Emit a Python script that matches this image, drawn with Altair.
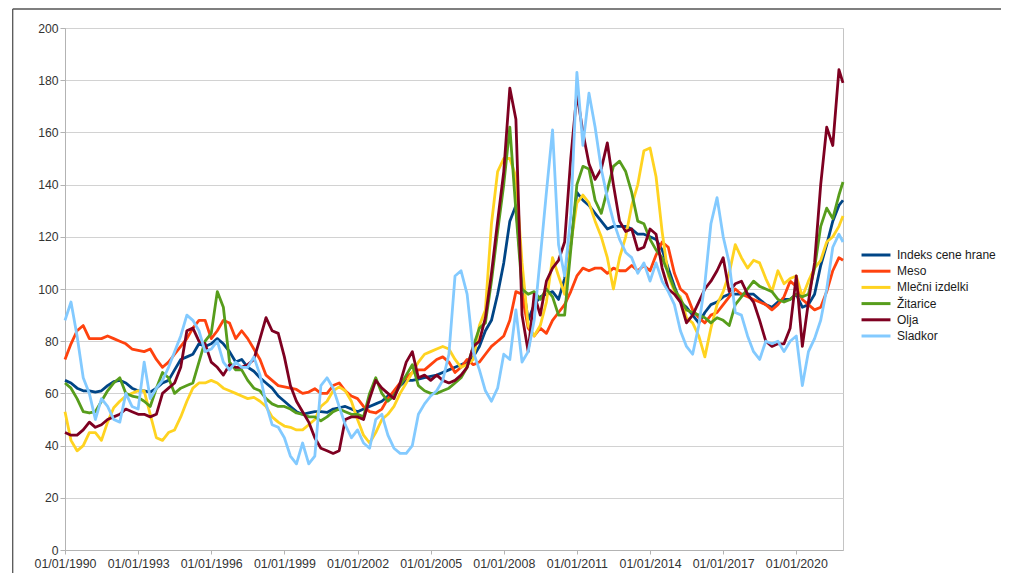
import altair as alt
import pandas as pd

# ---- data (quarterly readings, 1990-01 .. 2021-10, plus 2021-12) ----
series_names = ["Indeks cene hrane", "Meso", "Mlečni izdelki", "Žitarice", "Olja", "Sladkor"]
colors = ["#004586", "#ff420e", "#ffd320", "#579d1c", "#7e0021", "#83caff"]

month_offsets = list(range(0, 384, 3)) + [383]

indeks = [
    65, 64, 62, 61, 61, 60.5, 61, 63, 64.5, 65, 64, 62, 61, 61, 60.5, 62,
    64, 65, 69, 73, 74, 75, 79, 78, 79, 81, 79, 76, 72, 73, 70, 68.5,
    66, 64, 62, 59, 57, 55, 53, 52, 52.5, 53, 53, 52.7, 54, 54.5, 55, 54,
    53, 54, 55, 56, 57, 59, 60, 63, 65, 65, 65.5, 66, 66.5, 67, 68, 69,
    70, 71, 72, 74, 78, 84, 88, 98, 110, 126, 132, 104, 88, 94, 97, 98,
    99, 96, 104, 117, 137, 134, 132, 129, 126, 123, 124, 124, 124, 123, 121, 121,
    120, 119, 115, 108, 101, 95, 93, 90, 87, 91, 94, 95, 97, 98, 98, 98,
    98, 98, 96, 94, 93, 95, 96, 96, 98, 93, 94, 98, 109, 117, 126, 132,
    134]

meso = [
    73, 79, 84, 86, 81, 81, 81, 82, 81, 80, 79, 77, 76.5, 76, 77, 73,
    70, 72, 75, 78, 81, 85, 88, 88, 81, 84, 88, 87, 81, 84, 81, 77,
    73, 67, 65, 63, 62.5, 62, 61.5, 60, 60.5, 61.8, 60, 60, 63, 64, 61, 59,
    58, 55, 53, 52.5, 54, 58, 61, 64, 66, 68, 69, 69, 71, 73, 74, 72,
    68, 70, 73, 71, 72, 75, 78, 80, 82, 88, 99, 98, 85, 82, 85, 83,
    88, 91, 94, 99, 105, 108, 107, 108, 108, 106, 108, 107, 107, 109, 107, 109,
    107, 113, 118, 116, 106, 100, 98, 92, 89, 87, 90, 91, 94, 97, 100, 98,
    97, 96, 95, 94, 92, 94, 97, 103, 101, 96, 94, 92, 93, 99, 107, 112,
    111]

mlecni = [
    53, 42, 38, 40, 45, 45, 42, 49, 54.5, 57, 59, 60, 61, 61, 52, 43,
    42, 45, 46, 51, 57, 62, 64, 64, 65, 64, 62, 61, 60, 59, 58, 58.5,
    57, 55, 51, 49, 47.5, 47, 46, 46, 48, 50, 55, 57, 61, 62.5, 61, 57,
    50, 44, 41, 45, 50, 52, 55, 60, 64, 68, 72, 75, 76, 77, 78, 77,
    73, 70, 71, 73, 86, 92, 125, 145, 150, 150, 143, 110, 86, 82, 86, 95,
    112, 105, 98, 117, 133, 136, 133, 126, 120, 112, 100, 112, 120, 132, 140, 153,
    154, 143, 122, 105, 99, 97, 89, 87, 82, 74, 85, 94, 99, 106, 117, 112,
    108, 111, 110, 104, 99, 107, 102, 104, 105, 97, 103, 108, 111, 118, 120, 124,
    128]

zitarice = [
    64, 62, 58, 53, 52.5, 53, 57, 61, 64, 66, 60, 59, 58.5, 57, 55, 62,
    68, 66, 60, 62, 63, 64, 72, 80, 83, 99, 93, 72, 69, 69, 65, 62,
    61, 58, 56, 55, 55, 54, 52.5, 52, 51, 51, 49.5, 51, 53, 54, 53, 52,
    52, 51, 60, 66, 60, 57, 59, 63, 67, 71, 63, 61, 60, 60, 61, 62,
    64, 66, 70, 78, 85, 87, 103, 122, 140, 162, 130, 100, 98, 99, 96, 100,
    97, 90, 90, 115, 140, 147, 146, 134, 129, 138, 147, 149, 145, 137, 126, 125,
    119, 115, 112, 106, 100, 96, 92, 91, 90, 89, 87, 89, 88, 86, 94, 97,
    100, 103, 101, 100, 99, 96, 95, 96, 98, 97, 98, 108, 124, 131, 127, 136,
    141]

olja = [
    45, 44, 44, 46, 49, 47, 48, 50, 51, 52, 54, 53, 52, 52, 51, 52,
    60, 62, 64, 70, 84, 85, 80, 79, 72, 70, 67, 71, 70, 70, 71, 73,
    81, 89, 84, 83, 74, 63, 57, 53, 49, 43, 39, 38, 37, 38, 50, 51,
    51, 50, 58, 65, 62, 60, 58, 64, 72, 76, 66, 67, 65, 67, 65, 64,
    65, 67, 70, 78, 80, 89, 106, 126, 145, 177, 165, 90, 76, 98, 90, 103,
    108, 111, 118, 150, 175, 160, 148, 142, 146, 156, 140, 126, 122, 123, 115, 116,
    123, 121, 108, 100, 98, 95, 87, 90, 95, 100, 103, 107, 112, 99, 102, 103,
    98, 95, 88, 80, 78, 79, 79, 85, 105, 78, 95, 110, 140, 162, 155, 184,
    179]

sladkor = [
    88, 95, 82, 66, 60, 50, 58, 55, 50, 49, 60, 55, 54, 72, 58, 62,
    65, 70, 76, 82, 90, 88, 84, 76, 77, 80, 72, 69, 72, 70, 70, 74,
    67, 56, 48, 47, 43, 36, 33, 41, 33, 36, 63, 66, 62, 55, 48, 43,
    46, 41, 39, 50, 52, 44, 39, 37, 37, 40, 52, 56, 59, 61, 65, 75,
    105, 107, 98, 76, 69, 61, 57, 62, 75, 73, 92, 72, 76, 88, 112, 137,
    161, 117, 105, 128, 183, 155, 175, 162, 146, 135, 126, 119, 114, 112, 106, 110,
    103, 110, 103, 99, 94, 84, 78, 75, 86, 102, 125, 135, 120, 110, 91, 90,
    82, 76, 73, 80, 79, 80, 76, 80, 82, 63, 76, 81, 88, 100, 116, 121,
    118]

tick_years = list(range(1990, 2021, 3))
y_ticks = list(range(0, 201, 20))

# ---- table ----
dates = [f"{1990 + m // 12}-{m % 12 + 1:02d}-01" for m in month_offsets]
rows = []
for name, vals in zip(series_names, [indeks, meso, mlecni, zitarice, olja, sladkor]):
    for d, v in zip(dates, vals):
        rows.append({"datum": d, "serija": name, "vrednost": v})
df = pd.DataFrame(rows)

FONT = "Liberation Sans"

x_enc = alt.X(
    "datum:T",
    scale=alt.Scale(type="utc",
                    domain=[alt.DateTime(year=1990, month=1, date=1, utc=True),
                            alt.DateTime(year=2021, month=12, date=1, utc=True)]),
    axis=alt.Axis(
        values=[alt.DateTime(year=y, month=1, date=1, utc=True) for y in tick_years],
        format="%d/%m/%Y", title=None, grid=False, labelFlush=False,
        labelOverlap=False, tickSize=4, labelPadding=3,
        labelFontSize=12.4, labelFont=FONT, labelColor="#333333",
        domainColor="#b3b3b3", tickColor="#b3b3b3",
    ),
)
y_enc = alt.Y(
    "vrednost:Q",
    scale=alt.Scale(domain=[0, 200], nice=False, zero=True),
    axis=alt.Axis(
        values=y_ticks, title=None, tickSize=5, labelPadding=2,
        labelFontSize=12.2, labelFont=FONT, labelColor="#333333",
        domainColor="#b3b3b3", tickColor="#b3b3b3", gridColor="#d2d2d2",
    ),
)
color_enc = alt.Color(
    "serija:N",
    scale=alt.Scale(domain=series_names, range=colors),
    legend=alt.Legend(
        title=None, orient="none", legendX=802, legendY=218,
        symbolType="M-1.93,0H1.93", symbolSize=225, symbolStrokeWidth=3,
        labelFontSize=12, labelFont=FONT, labelColor="#1a1a1a",
        labelOffset=12, rowPadding=1.2, padding=0,
    ),
)

layers = []
for name in series_names:
    layers.append(
        alt.Chart(df)
        .transform_filter(alt.datum.serija == name)
        .mark_line(strokeWidth=2.8, strokeJoin="round")
        .encode(x=x_enc, y=y_enc, color=color_enc)
    )

# outer chart frame (decoration)
frame_top = alt.Chart(alt.Data(values=[{"k": 1}])).mark_rule(
    color="#555555", strokeWidth=1.3).encode(
    x=alt.value(-52.3), x2=alt.value(960), y=alt.value(-19))
frame_left = alt.Chart(alt.Data(values=[{"k": 1}])).mark_rule(
    color="#555555", strokeWidth=1.3).encode(
    x=alt.value(-52.3), y=alt.value(-19), y2=alt.value(560))

chart = (
    alt.layer(*layers, frame_top, frame_left)
    .properties(
        width=778, height=522,
        autosize=alt.AutoSizeParams(type="none"),
        padding={"left": 57, "top": 20, "right": 158, "bottom": 23},
        background="white",
    )
    .configure_view(stroke="#c4c4c4", strokeWidth=1)
)

chart.save("out.html", embed_options={"renderer": "svg", "actions": False})
